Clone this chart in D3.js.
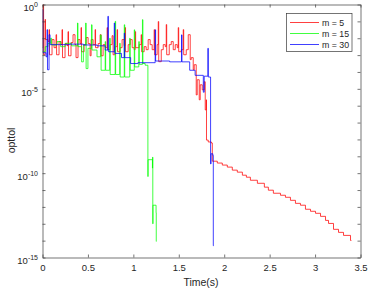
<!DOCTYPE html>
<html>
<head>
<meta charset="utf-8">
<script src="https://cdn.jsdelivr.net/npm/d3@7"></script>
<style>
  body { margin: 0; background: #fff; }
  svg { display: block; font-family: "Liberation Sans", Arial, Helvetica, sans-serif; }
  .axis path, .axis line { stroke: #3a3a3a; stroke-width: 0.7; }
  .axis text { fill: #262626; }
</style>
</head>
<body>
<svg></svg>
<script>
  // x ticks (seconds) and y decades (log10 of opttol)
  var xTicks = [0, 0.5, 1, 1.5, 2, 2.5, 3, 3.5];
  var yDecades = [0, -1, -2, -3, -4, -5, -6, -7, -8, -9, -10, -11, -12, -13, -14, -15];
  var yLabeled = [0, -5, -10, -15];

  var seriesNames = ["m = 5", "m = 15", "m = 30"];
  var seriesColors = ["#ff0000", "#00ff00", "#0000ff"];

  // [time, log10(opttol)] pairs, drawn as stairs
  var m5 = [[0,-2.56],[0.006,0],[0.012,-2.98],[0.028,-0.89],[0.033,-2.08],[0.061,-2.2],[0.072,-1.49],[0.077,-2.98],[0.105,-2.08],[0.127,-2.56],
    [0.149,-1.79],[0.155,-2.98],[0.182,-2.2],[0.204,-2.38],[0.215,-1.49],[0.22,-3.15],[0.248,-2.32],[0.27,-2.44],[0.281,-1.61],[0.286,-3.04],
    [0.314,-2.26],[0.336,-1.79],[0.358,-2.38],[0.369,-3.15],[0.391,-2.08],[0.413,-2.32],[0.424,-1.37],[0.429,-2.8],[0.458,-2.38],[0.48,-1.96],
    [0.502,-2.32],[0.524,-3.04],[0.535,-2.08],[0.557,-2.38],[0.579,-1.49],[0.584,-2.56],[0.612,-2.32],[0.634,-1.79],[0.645,-3.04],[0.667,-2.38],
    [0.689,-2.56],[0.711,-1.37],[0.716,-2.68],[0.744,-2.38],[0.766,-1.85],[0.777,-2.98],[0.799,-2.5],[0.821,-1.49],[0.826,-2.8],[0.854,-2.56],
    [0.876,-2.08],[0.898,-2.44],[0.909,-1.37],[0.914,-2.8],[0.943,-2.38],[0.965,-2.08],[0.987,-2.56],[1.009,-2.68],[1.02,-1.61],[1.025,-2.56],
    [1.064,-2.38],[1.086,-1.79],[1.091,-2.8],[1.119,-2.5],[1.141,-2.68],[1.163,-2.08],[1.185,-2.38],[1.207,-2.68],[1.229,-1.49],[1.234,-2.98],
    [1.262,-2.38],[1.274,-1.01],[1.279,-3.39],[1.307,-2.68],[1.329,-2.38],[1.351,-2.5],[1.362,-1.19],[1.367,-2.98],[1.395,-2.38],[1.417,-2.2],
    [1.439,-2.68],[1.461,-2.38],[1.483,-2.56],[1.494,-1.37],[1.499,-2.8],[1.527,-2.68],[1.549,-1.49],[1.554,-2.98],[1.582,-2.68],[1.604,-1.79],
    [1.626,-3.27],[1.637,-3.15],[1.659,-3.87],[1.67,-3.57],[1.692,-5.36],[1.703,-4.46],[1.725,-5.65],[1.736,-4.76],[1.758,-5.06],[1.78,-4.58],
    [1.791,-6.25],[1.802,-5.65],[1.805,-8.04],[1.824,-8.15],[1.858,-8.21],
    [1.869,-9.29],[1.924,-9.4],[1.979,-9.52],[2.034,-9.64],[2.089,-9.82],[2.144,-9.94],[2.2,-10.12],[2.244,-10.24],[2.288,-10.42],[2.365,-10.6],
    [2.442,-10.83],[2.486,-11.01],[2.541,-11.19],[2.619,-11.31],[2.674,-11.43],[2.729,-11.61],[2.784,-11.79],[2.839,-11.9],[2.894,-12.14],[2.95,-12.26],
    [3.005,-12.38],[3.06,-12.56],[3.115,-12.8],[3.148,-12.98],[3.203,-13.33],[3.258,-13.51],[3.313,-13.69],[3.39,-13.99],[3.4,-13.99]];

  var m15 = [[0,-2.8],[0.03,-2.5],[0.06,-2.3],[0.09,-2.0],[0.1,-2.4],[0.16,-2.2],[0.2,-2.5],[0.25,-2.3],[0.32,-2.45],[0.385,-1.1],
    [0.39,-2.5],[0.43,-3.4],[0.45,-2.4],[0.475,-1.1],[0.48,-3.8],[0.5,-2.6],[0.54,-1.2],[0.545,-2.7],[0.6,-3.1],[0.64,-1.8],
    [0.645,-3.9],[0.69,-2.2],[0.695,-3.9],[0.74,-2.0],[0.745,-4.15],[0.8,-1.0],[0.805,-4.15],[0.85,-2.3],[0.855,-4.3],[0.9,-1.2],
    [0.905,-4.3],[0.96,-2.0],[0.965,-3.9],[1.01,-1.5],[1.015,-3.7],[1.06,-2.2],[1.065,-3.55],[1.1,-0.9],[1.105,-3.5],[1.13,-3.6],
    [1.16,-10.2],[1.162,-9.2],[1.21,-9.7],[1.212,-9.05],[1.214,-13.0],[1.216,-11.9],[1.25,-12.35],[1.252,-14.05],[1.254,-14.05]];

  var m30 = [[0,-0.3],[0.004,-2.86],[0.039,-3.1],[0.05,-1.49],[0.055,-3.87],[0.072,-1.79],[0.083,-2.38],[0.3,-2.35],[0.45,-2.4],[0.6,-2.45],
    [0.69,-2.7],[0.72,-0.7],[0.725,-2.8],[0.79,-1.1],[0.795,-2.9],[0.87,-3.15],[0.9,-1.7],[0.905,-3.15],[0.97,-3.5],[1.05,-3.45],
    [1.24,-1.5],[1.245,-3.35],[1.4,-3.4],[1.53,-1.8],[1.535,-3.4],[1.62,-3.9],[1.68,-4.2],[1.77,-5.2],[1.78,-4.25],[1.82,-2.6],
    [1.825,-4.3],[1.85,-9.45],[1.855,-8.85],[1.875,-8.95],[1.88,-14.3],[1.885,-14.3]];

  var allSeries = [m5, m15, m30];

  var width = 374, height = 291;
  var plotLeft = 42.5, plotRight = 360.5, plotTop = 4.5, plotBottom = 257.5;

  var svg = d3.select("svg").attr("width", width).attr("height", height);

  var x = d3.scaleLinear().domain([0, 3.5]).range([plotLeft, plotRight]);
  var y = d3.scaleLog().domain([1e-15, 1]).range([plotBottom, plotTop]);

  svg.append("clipPath").attr("id", "plotclip")
    .append("rect").attr("x", plotLeft).attr("y", plotTop).attr("width", plotRight - plotLeft).attr("height", plotBottom - plotTop);

  var line = d3.line()
    .x(function(d) { return x(d[0]); })
    .y(function(d) { return y(Math.pow(10, d[1])); })
    .curve(d3.curveStepAfter);

  var plot = svg.append("g").attr("clip-path", "url(#plotclip)");
  allSeries.forEach(function(s, i) {
    plot.append("path").datum(s)
      .attr("d", line)
      .attr("fill", "none")
      .attr("stroke", seriesColors[i])
      .attr("stroke-width", 0.75);
  });

  // axes, ticks pointing inward
  var decadeValues = yDecades.map(function(e) { return Math.pow(10, e); });

  svg.append("g").attr("class", "axis")
    .attr("transform", "translate(0," + plotBottom + ")")
    .call(d3.axisBottom(x).tickValues(xTicks).tickSizeInner(-3).tickSizeOuter(0).tickPadding(7).tickFormat(d3.format("~g")))
    .attr("font-size", "9.5px").attr("font-family", null);

  svg.append("g").attr("class", "axis")
    .attr("transform", "translate(0," + plotTop + ")")
    .call(d3.axisTop(x).tickValues(xTicks).tickSizeInner(-3).tickSizeOuter(0).tickFormat(function() { return ""; }));

  svg.append("g").attr("class", "axis")
    .attr("transform", "translate(" + plotRight + ",0)")
    .call(d3.axisRight(y).tickValues(decadeValues).tickSizeInner(-3).tickSizeOuter(0).tickFormat(function() { return ""; }));

  var gy = svg.append("g").attr("class", "axis")
    .attr("transform", "translate(" + plotLeft + ",0)")
    .call(d3.axisLeft(y).tickValues(decadeValues).tickSizeInner(-3).tickSizeOuter(0).tickPadding(4.5).tickFormat(function() { return ""; }))
    .attr("font-size", "9.5px").attr("font-family", null);

  gy.selectAll(".tick text").each(function(d) {
    var e = Math.round(Math.log10(d));
    if (yLabeled.indexOf(e) < 0) return;
    var t = d3.select(this).attr("dy", "0.65em").text("10");
    t.append("tspan").attr("dy", "-0.55em").attr("font-size", "7px").text(e);
  });

  svg.append("text").attr("x", 201).attr("y", 285.5)
    .attr("text-anchor", "middle").attr("font-size", "10.5px").attr("fill", "#262626")
    .text("Time(s)");

  svg.append("text").attr("transform", "translate(15,140.5) rotate(-90)")
    .attr("text-anchor", "middle").attr("font-size", "10.5px").attr("fill", "#262626")
    .text("opttol");

  // legend
  var legend = svg.append("g");
  legend.append("rect").attr("x", 286.5).attr("y", 13.5).attr("width", 65.5).attr("height", 38)
    .attr("fill", "#fff").attr("stroke", "#3a3a3a").attr("stroke-width", 0.7);
  seriesNames.forEach(function(name, i) {
    var ly = 22.5 + i * 11;
    legend.append("line").attr("x1", 290).attr("x2", 319).attr("y1", ly).attr("y2", ly)
      .attr("stroke", seriesColors[i]).attr("stroke-width", 0.75);
    legend.append("text").attr("x", 322).attr("y", ly + 3)
      .attr("font-size", "8.8px").attr("fill", "#262626").text(name);
  });
</script>
</body>
</html>
